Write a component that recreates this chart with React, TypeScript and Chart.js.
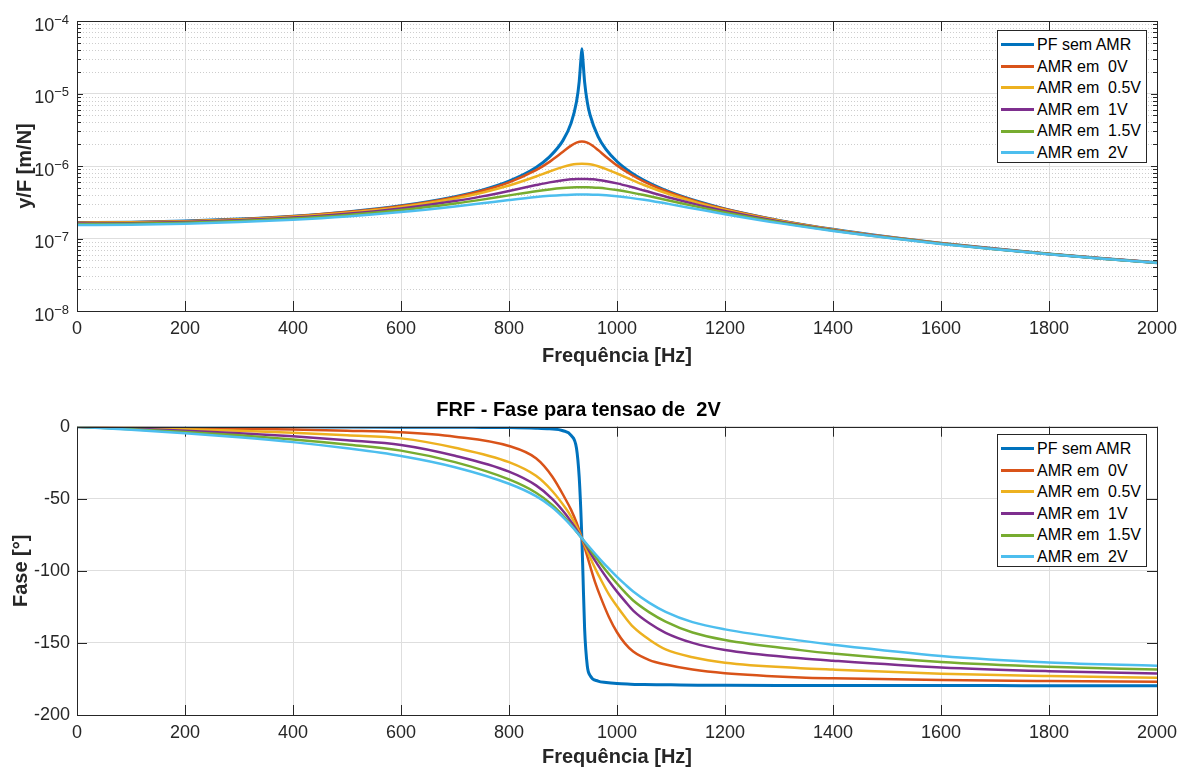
import React, { useEffect, useRef } from 'react';
import { Chart, registerables } from 'chart.js';

Chart.register(...registerables);

const FONT = "'Liberation Sans', Arial, Helvetica, sans-serif";
const TEXT = '#262626';
const GRID = '#dedede';

// ---------- DATA ----------
const seriesLabels = ['PF sem AMR', 'AMR em  0V', 'AMR em  0.5V', 'AMR em  1V', 'AMR em  1.5V', 'AMR em  2V'];
const seriesColors = ['#0072BD', '#D95319', '#EDB120', '#7E2F8E', '#77AC30', '#4DBEEE'];

// frequency grid for the plate without absorber (PF sem AMR)
const freqPF = [0, 100, 200, 300, 400, 500, 600, 700, 750, 800, 850, 875, 900, 915, 925, 930, 933, 935, 937, 940, 945, 950, 965, 980, 1000, 1025, 1050, 1100, 1150, 1200, 1300, 1400, 1500, 1600, 1700, 1800, 1900, 2000];
const magPF = [1.660e-7, 1.679e-7, 1.740e-7, 1.851e-7, 2.032e-7, 2.325e-7, 2.822e-7, 3.777e-7, 4.655e-7, 6.195e-7, 9.563e-7, 1.336e-6, 2.257e-6, 3.904e-6, 7.667e-6, 1.458e-5, 2.842e-5, 4.15e-5, 2.830e-5, 1.449e-5, 7.583e-6, 5.092e-6, 2.541e-6, 1.682e-6, 1.153e-6, 8.224e-7, 6.357e-7, 4.322e-7, 3.237e-7, 2.565e-7, 1.779e-7, 1.337e-7, 1.055e-7, 8.608e-8, 7.199e-8, 6.134e-8, 5.305e-8, 4.643e-8];
const phasePF = [0, 0, 0, -0.1, -0.1, -0.2, -0.3, -0.4, -0.5, -0.6, -1.0, -1.5, -2.8, -6, -15, -35, -58, -78, -103, -140, -166, -172.5, -176.5, -177.5, -178.2, -178.6, -178.9, -179.1, -179.3, -179.4, -179.5, -179.5, -179.6, -179.6, -179.6, -179.7, -179.7, -179.7];

// frequency grid for the AMR magnitude curves
const freq = [0, 100, 200, 300, 400, 500, 600, 700, 750, 800, 850, 875, 900, 915, 925, 935, 945, 955, 965, 980, 1000, 1025, 1050, 1100, 1150, 1200, 1300, 1400, 1500, 1600, 1700, 1800, 1900, 2000];
const mag0V = [1.655e-7, 1.674e-7, 1.734e-7, 1.844e-7, 2.023e-7, 2.312e-7, 2.799e-7, 3.722e-7, 4.553e-7, 5.960e-7, 8.762e-7, 1.140e-6, 1.571e-6, 1.908e-6, 2.103e-6, 2.184e-6, 2.102e-6, 1.898e-6, 1.658e-6, 1.334e-6, 1.020e-6, 7.698e-7, 6.104e-7, 4.240e-7, 3.202e-7, 2.547e-7, 1.773e-7, 1.334e-7, 1.0536e-7, 8.602e-8, 7.195e-8, 6.132e-8, 5.303e-8, 4.642e-8];
const mag05V = [1.641e-7, 1.659e-7, 1.717e-7, 1.824e-7, 1.997e-7, 2.273e-7, 2.730e-7, 3.565e-7, 4.274e-7, 5.371e-7, 7.154e-7, 8.391e-7, 9.729e-7, 1.0393e-6, 1.0678e-6, 1.0779e-6, 1.0675e-6, 1.0378e-6, 9.926e-7, 9.078e-7, 7.877e-7, 6.540e-7, 5.476e-7, 4.012e-7, 3.100e-7, 2.495e-7, 1.755e-7, 1.3264e-7, 1.0498e-7, 8.581e-8, 7.183e-8, 6.124e-8, 5.298e-8, 4.638e-8];
const mag1V = [1.610e-7, 1.628e-7, 1.683e-7, 1.783e-7, 1.943e-7, 2.194e-7, 2.597e-7, 3.283e-7, 3.812e-7, 4.530e-7, 5.454e-7, 5.947e-7, 6.371e-7, 6.547e-7, 6.616e-7, 6.640e-7, 6.616e-7, 6.543e-7, 6.425e-7, 6.177e-7, 5.755e-7, 5.167e-7, 4.592e-7, 3.622e-7, 2.910e-7, 2.393e-7, 1.718e-7, 1.3103e-7, 1.0418e-7, 8.537e-8, 7.157e-8, 6.108e-8, 5.288e-8, 4.631e-8];
const mag15V = [1.578e-7, 1.595e-7, 1.646e-7, 1.739e-7, 1.887e-7, 2.115e-7, 2.468e-7, 3.034e-7, 3.436e-7, 3.934e-7, 4.495e-7, 4.758e-7, 4.968e-7, 5.050e-7, 5.081e-7, 5.092e-7, 5.081e-7, 5.048e-7, 4.993e-7, 4.874e-7, 4.658e-7, 4.330e-7, 3.974e-7, 3.295e-7, 2.732e-7, 2.291e-7, 1.679e-7, 1.2928e-7, 1.0329e-7, 8.488e-8, 7.128e-8, 6.090e-8, 5.276e-8, 4.624e-8];
const mag2V = [1.536e-7, 1.551e-7, 1.598e-7, 1.683e-7, 1.816e-7, 2.016e-7, 2.315e-7, 2.762e-7, 3.055e-7, 3.389e-7, 3.728e-7, 3.875e-7, 3.985e-7, 4.027e-7, 4.043e-7, 4.049e-7, 4.043e-7, 4.026e-7, 3.999e-7, 3.937e-7, 3.820e-7, 3.633e-7, 3.415e-7, 2.955e-7, 2.528e-7, 2.167e-7, 1.629e-7, 1.2692e-7, 1.0208e-7, 8.420e-8, 7.088e-8, 6.065e-8, 5.260e-8, 4.612e-8];

// frequency grid for the AMR phase curves
const phaseFreq = [0, 100, 200, 300, 400, 500, 600, 700, 800, 850, 880, 905, 915, 925, 935, 950, 960, 970, 985, 1000, 1015, 1030, 1060, 1090, 1140, 1200, 1340, 1400, 1600, 1800, 2000];
const phase0V = [0, -0.4, -0.9, -1.4, -2.0, -2.8, -3.9, -6.9, -13.4, -21.9, -34.5, -50.5, -57.7, -66.5, -77.4, -96.4, -108.5, -118.6, -132.0, -142.6, -150.5, -156.0, -161.9, -165.0, -168.5, -171.0, -173.9, -174.5, -175.7, -176.4, -176.9];
const phase05V = [0, -0.8, -1.7, -2.8, -4.2, -6.0, -8.1, -14.6, -24.6, -34.1, -44.6, -56.6, -62.4, -69.2, -77.4, -90.5, -98.6, -106.0, -116.3, -124.6, -132.2, -138.9, -147.8, -154.5, -159.9, -163.7, -167.5, -168.5, -171.3, -173.0, -174.2];
const phase1V = [0, -1.3, -2.8, -4.6, -6.7, -9.4, -12.7, -20.2, -31.2, -40.7, -50.0, -60.7, -65.9, -71.4, -77.4, -87.1, -93.3, -99.0, -107.0, -114.4, -121.2, -127.6, -136.4, -143.0, -150.0, -154.9, -160.6, -162.3, -167.0, -169.6, -171.2];
const phase15V = [0, -1.7, -3.7, -6.0, -8.8, -12.3, -16.6, -24.6, -36.6, -45.8, -54.2, -63.7, -68.1, -72.8, -77.4, -85.2, -90.3, -95.2, -102.2, -108.8, -115.0, -120.6, -128.8, -135.2, -142.8, -148.0, -155.0, -157.4, -163.2, -166.5, -168.5];
const phase2V = [0, -2.1, -4.5, -7.3, -10.7, -15.0, -20.3, -28.1, -39.6, -48.2, -55.9, -64.6, -68.6, -72.9, -77.4, -84.0, -88.3, -92.5, -98.5, -104.2, -109.4, -114.3, -122.2, -128.4, -135.6, -140.6, -148.4, -151.2, -159.0, -163.5, -165.8];

// ticks
const xTicks = [0, 200, 400, 600, 800, 1000, 1200, 1400, 1600, 1800, 2000];
const magTicks = [
  1e-8, 2e-8, 3e-8, 4e-8, 5e-8, 6e-8, 7e-8, 8e-8, 9e-8,
  1e-7, 2e-7, 3e-7, 4e-7, 5e-7, 6e-7, 7e-7, 8e-7, 9e-7,
  1e-6, 2e-6, 3e-6, 4e-6, 5e-6, 6e-6, 7e-6, 8e-6, 9e-6,
  1e-5, 2e-5, 3e-5, 4e-5, 5e-5, 6e-5, 7e-5, 8e-5, 9e-5,
  1e-4,
];
const magDecades = [1e-8, 1e-7, 1e-6, 1e-5, 1e-4];
const magDecadeExp = ['\u22128', '\u22127', '\u22126', '\u22125', '\u22124'];
const phaseTicks = [0, -50, -100, -150, -200];

const topTitleY = 'y/F [m/N]';
const bottomTitleY = 'Fase [°]';
const titleX = 'Frequência [Hz]';
const bottomTitle = 'FRF - Fase para tensao de  2V';

// ---------- helpers ----------
const isDecade = (v: number) => {
  const l = Math.log10(v);
  return Math.abs(l - Math.round(l)) < 1e-9;
};
const pts = (xs: number[], ys: number[]) => xs.map((x, i) => ({ x, y: ys[i] }));

const matlabAxes = {
  id: 'matlabAxes',
  beforeDatasetsDraw(chart: any, _a: any, opts: any) {
    const { ctx, chartArea } = chart;
    const { left, right, top, bottom } = chartArea;
    const xs = chart.scales.x;
    const ys = chart.scales.y;
    ctx.save();
    if (opts.minorY && opts.minorY.length) {
      ctx.strokeStyle = '#cdcdcd';
      ctx.lineWidth = 1;
      ctx.setLineDash([1, 2]);
      ctx.beginPath();
      for (const v of opts.minorY) {
        const y = Math.round(ys.getPixelForValue(v)) + 0.5;
        ctx.moveTo(left, y);
        ctx.lineTo(right, y);
      }
      ctx.stroke();
      ctx.setLineDash([]);
    }
    ctx.strokeStyle = TEXT;
    ctx.lineWidth = 1;
    ctx.beginPath();
    const L = opts.xTickLen;
    for (const v of opts.xTicks) {
      const x = Math.round(xs.getPixelForValue(v)) + 0.5;
      ctx.moveTo(x, bottom);
      ctx.lineTo(x, bottom - L);
      ctx.moveTo(x, top);
      ctx.lineTo(x, top + L);
    }
    for (const t of opts.yTicks) {
      const y = Math.round(ys.getPixelForValue(t.v)) + 0.5;
      ctx.moveTo(left, y);
      ctx.lineTo(left + t.len, y);
      ctx.moveTo(right, y);
      ctx.lineTo(right - t.len, y);
    }
    ctx.stroke();
    ctx.restore();
  },
  afterDatasetsDraw(chart: any) {
    const { ctx, chartArea } = chart;
    const { left, right, top, bottom } = chartArea;
    ctx.save();
    ctx.strokeStyle = TEXT;
    ctx.lineWidth = 1;
    ctx.strokeRect(Math.round(left) + 0.5, Math.round(top) + 0.5, Math.round(right - left), Math.round(bottom - top));
    ctx.restore();
  },
  afterDraw(chart: any, _a: any, opts: any) {
    if (!opts.logLabels) return;
    const { ctx } = chart;
    const ys = chart.scales.y;
    const xr = chart.chartArea.left - 8;
    ctx.save();
    ctx.fillStyle = TEXT;
    ctx.textAlign = 'right';
    ctx.textBaseline = 'middle';
    magDecades.forEach((v, i) => {
      const y = ys.getPixelForValue(v);
      ctx.font = `13px ${FONT}`;
      const ew = ctx.measureText(magDecadeExp[i]).width;
      ctx.fillText(magDecadeExp[i], xr, y - 1);
      ctx.font = `18px ${FONT}`;
      ctx.fillText('10', xr - ew, y + 5);
    });
    ctx.restore();
  },
};

function makeDatasets(series: { x: number[]; y: number[] }[]) {
  return series.map((s, i) => ({
    label: seriesLabels[i],
    data: pts(s.x, s.y),
    borderColor: seriesColors[i],
    backgroundColor: seriesColors[i],
    borderWidth: i === 0 ? 3 : 2.5,
    pointRadius: 0,
    fill: false,
    cubicInterpolationMode: 'monotone' as const,
    order: 5 - i,
  }));
}

const xScaleBase = (height: number, titlePadBottom: number) => ({
  type: 'linear' as const,
  min: 0,
  max: 2000,
  ticks: {
    stepSize: 200,
    padding: 7,
    color: TEXT,
    font: { size: 18, family: FONT },
    maxRotation: 0,
    autoSkip: false,
    callback: (v: any) => String(v),
  },
  grid: { color: GRID, drawTicks: false, lineWidth: 1 },
  border: { display: false },
  title: {
    display: true,
    text: titleX,
    color: TEXT,
    font: { size: 20, weight: 'bold' as const, family: FONT },
    padding: { top: 0, bottom: titlePadBottom },
  },
  afterFit: (s: any) => {
    s.height = height;
    s.paddingLeft = 0;
    s.paddingRight = 0;
  },
});

const yAfterFit = (s: any) => {
  s.width = 77;
  s.paddingTop = 0;
  s.paddingBottom = 0;
};

function Legend({ top }: { top: number }) {
  return (
    <div
      style={{
        position: 'absolute',
        left: 997,
        top,
        width: 150,
        height: 133,
        border: `1px solid ${TEXT}`,
        background: '#fff',
        boxSizing: 'border-box',
      }}
    >
      {seriesLabels.map((l, i) => (
        <div
          key={l}
          style={{
            position: 'absolute',
            left: 3,
            top: 2.9 + i * 21.6,
            height: 21.6,
            display: 'flex',
            alignItems: 'center',
          }}
        >
          <span style={{ display: 'inline-block', width: 33, height: 3, background: seriesColors[i] }} />
          <span
            style={{
              marginLeft: 3,
              font: `16px ${FONT}`,
              color: '#000',
              whiteSpace: 'pre',
              lineHeight: '21.6px',
            }}
          >
            {l}
          </span>
        </div>
      ))}
    </div>
  );
}

export default function App() {
  const topRef = useRef<HTMLCanvasElement | null>(null);
  const botRef = useRef<HTMLCanvasElement | null>(null);

  useEffect(() => {
    if (!topRef.current || !botRef.current) return;

    const top = new Chart(topRef.current, {
      type: 'line',
      data: {
        datasets: makeDatasets([
          { x: freqPF, y: magPF },
          { x: freq, y: mag0V },
          { x: freq, y: mag05V },
          { x: freq, y: mag1V },
          { x: freq, y: mag15V },
          { x: freq, y: mag2V },
        ]) as any,
      },
      options: {
        responsive: false,
        animation: false,
        devicePixelRatio: 1,
        layout: { padding: { left: 0, right: 22, top: 21, bottom: 0 } },
        plugins: {
          legend: { display: false },
          tooltip: { enabled: false },
          title: { display: false },
          matlabAxes: {
            xTicks,
            xTickLen: 10,
            minorY: magTicks.filter((v) => !isDecade(v)),
            yTicks: magTicks.map((v) => ({ v, len: isDecade(v) ? 6 : 4 })),
            logLabels: true,
          },
        } as any,
        scales: {
          x: xScaleBase(69, 12) as any,
          y: {
            type: 'logarithmic',
            min: 1e-8,
            max: 1e-4,
            afterBuildTicks: (s: any) => {
              s.ticks = magTicks.map((v) => ({ value: v }));
            },
            ticks: { display: false, autoSkip: false },
            grid: {
              color: (c: any) => (c.tick && isDecade(c.tick.value) ? GRID : 'rgba(0,0,0,0)'),
              drawTicks: false,
            },
            border: { display: false },
            title: {
              display: true,
              text: topTitleY,
              color: TEXT,
              font: { size: 20, weight: 'bold', family: FONT },
              padding: { top: 13, bottom: 0 },
            },
            afterFit: yAfterFit,
          } as any,
        },
      },
      plugins: [matlabAxes as any],
    });

    const bot = new Chart(botRef.current, {
      type: 'line',
      data: {
        datasets: makeDatasets([
          { x: freqPF, y: phasePF },
          { x: phaseFreq, y: phase0V },
          { x: phaseFreq, y: phase05V },
          { x: phaseFreq, y: phase1V },
          { x: phaseFreq, y: phase15V },
          { x: phaseFreq, y: phase2V },
        ]) as any,
      },
      options: {
        responsive: false,
        animation: false,
        devicePixelRatio: 1,
        layout: { padding: { left: 0, right: 22, top: 0, bottom: 0 } },
        plugins: {
          legend: { display: false },
          tooltip: { enabled: false },
          title: {
            display: true,
            text: bottomTitle,
            color: '#000',
            font: { size: 20, weight: 'bold', family: FONT },
            padding: { top: 18, bottom: 4.7 },
          },
          matlabAxes: {
            xTicks,
            xTickLen: 10,
            minorY: [],
            yTicks: phaseTicks.map((v) => ({ v, len: 10 })),
            logLabels: false,
          },
        } as any,
        scales: {
          x: xScaleBase(54, 0) as any,
          y: {
            type: 'linear',
            min: -200,
            max: 0,
            ticks: {
              stepSize: 50,
              padding: 7,
              color: TEXT,
              font: { size: 18, family: FONT },
            },
            grid: { color: GRID, drawTicks: false },
            border: { display: false },
            title: {
              display: true,
              text: bottomTitleY,
              color: TEXT,
              font: { size: 20, weight: 'bold', family: FONT },
              padding: { top: 9, bottom: 0 },
            },
            afterFit: yAfterFit,
          } as any,
        },
      },
      plugins: [matlabAxes as any],
    });

    return () => {
      top.destroy();
      bot.destroy();
    };
  }, []);

  return (
    <div style={{ position: 'fixed', left: 0, top: 0, width: 1179, height: 769, background: '#fff', overflow: 'hidden' }}>
      <canvas
        ref={topRef}
        width={1179}
        height={380}
        style={{ position: 'absolute', left: 0, top: 0, width: 1179, height: 380 }}
      />
      <canvas
        ref={botRef}
        width={1179}
        height={389}
        style={{ position: 'absolute', left: 0, top: 380, width: 1179, height: 389 }}
      />
      <Legend top={30} />
      <Legend top={434} />
    </div>
  );
}
